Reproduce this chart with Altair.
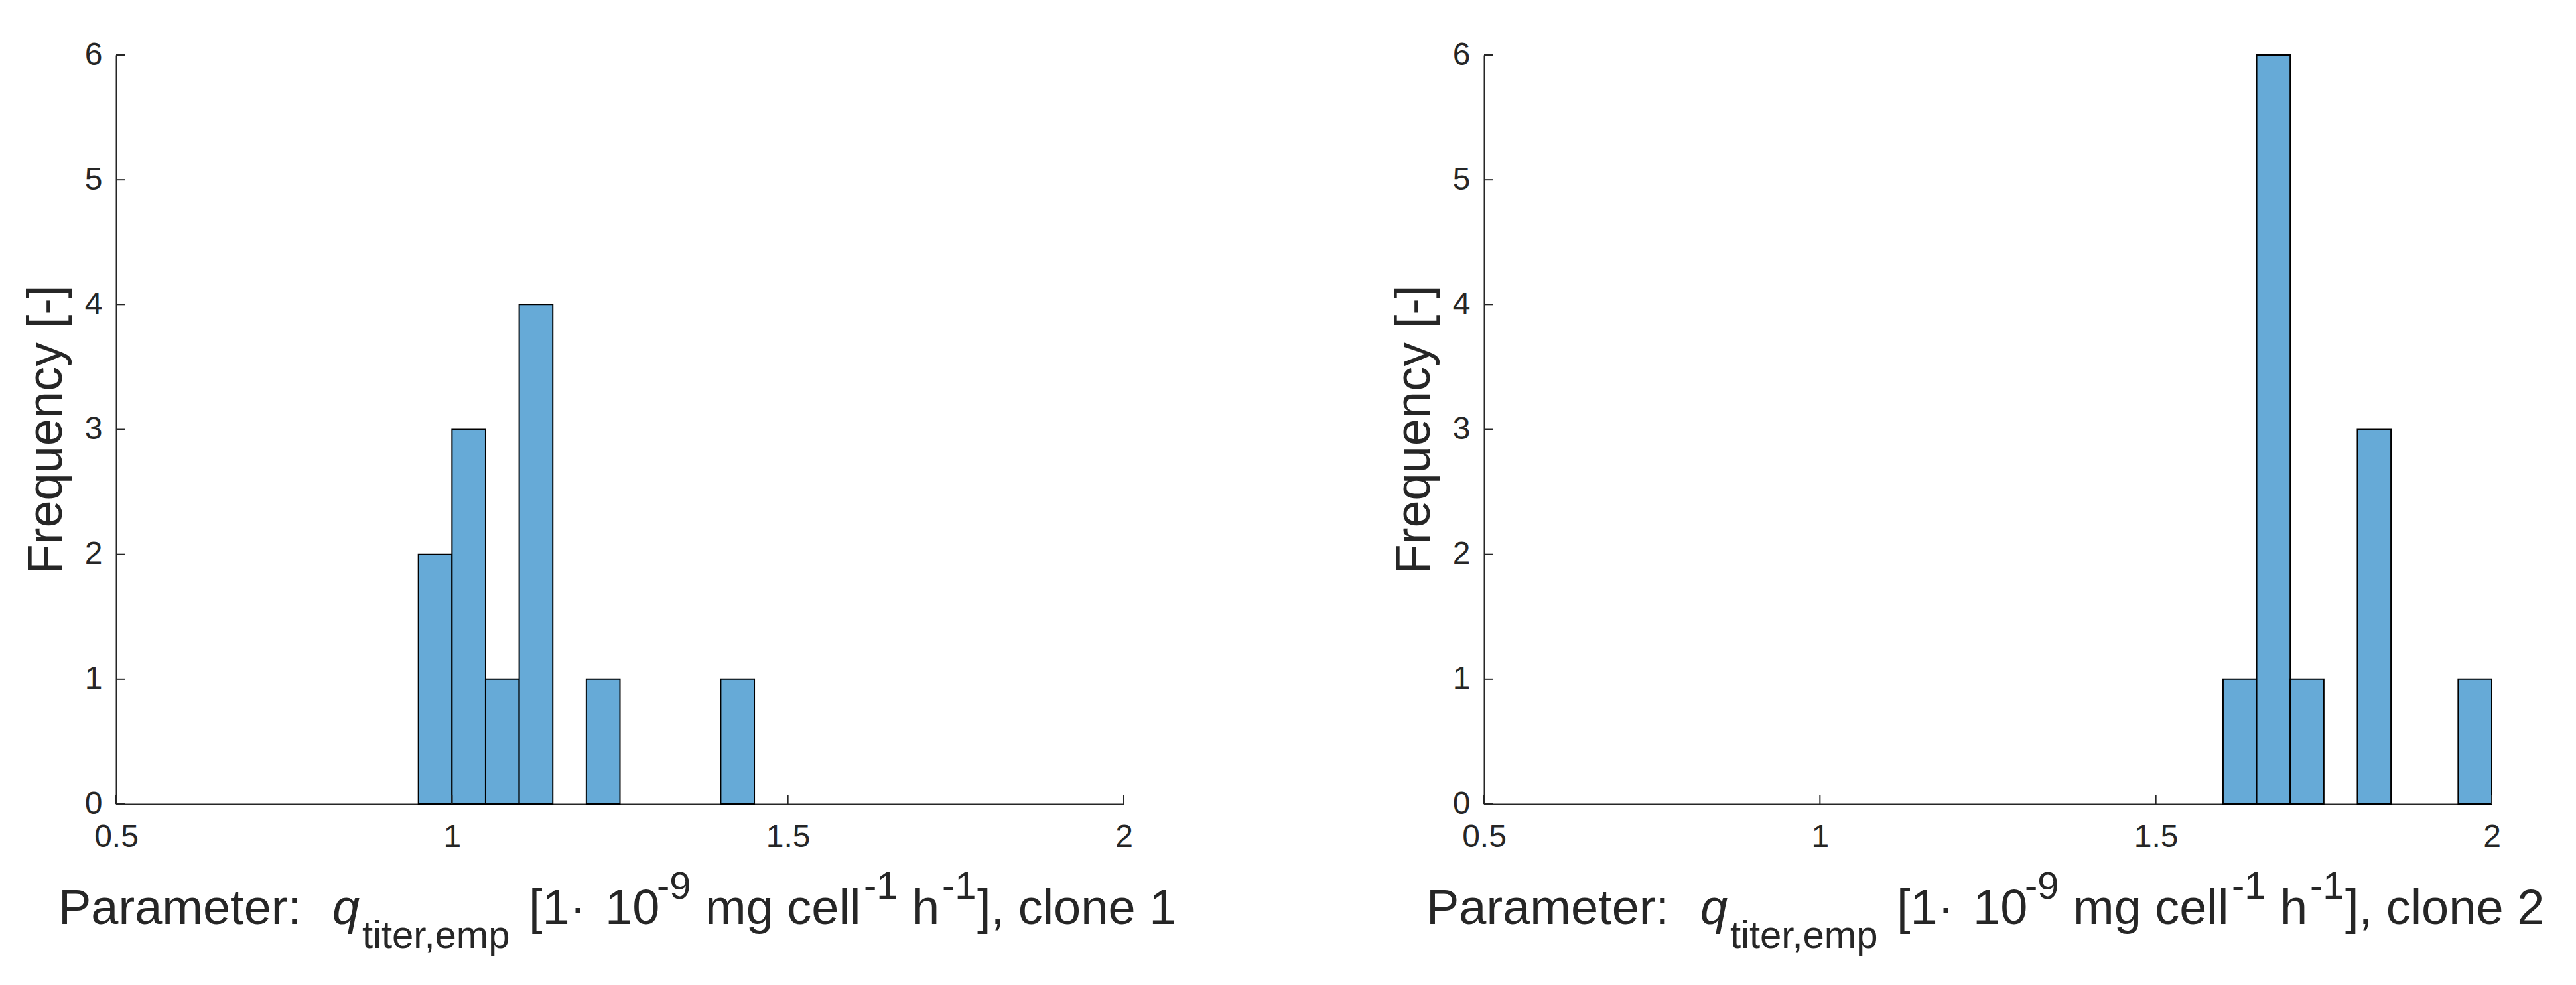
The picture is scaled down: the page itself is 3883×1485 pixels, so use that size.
import altair as alt
import pandas as pd

# ---------------- data ----------------
bin_width = 0.05
c1_lo = [0.95, 1.00, 1.05, 1.10, 1.20, 1.40]
c1_n = [2, 3, 1, 4, 1, 1]
c2_lo = [1.60, 1.65, 1.70, 1.80, 1.95]
c2_n = [1, 6, 1, 3, 1]
x_ticks = [0.5, 1.0, 1.5, 2.0]
y_ticks = [0, 1, 2, 3, 4, 5, 6]
clones = ["1", "2"]
y_title = "Frequency [-]"
t_param = "Parameter:"
t_q = "q"
t_sub = "titer,emp"
t_br = "[1·"
t_ten = "10"
t_exp9 = "-9"
t_unit = "mg cell"
t_exp1 = "-1"
t_h = "h"
t_end = "], clone "

# ---------------- style ----------------
W, H = 1519, 1129
FONT = "Liberation Sans"
INK = "#262626"
FILL = "#66AAD7"
MAIN, SCRIPT, TICKF = 74, 58, 48
TICKLEN = 13


def txt(s, x, y, size, style="normal", angle=0, align="left"):
    return alt.Chart(pd.DataFrame({"t": [s]})).mark_text(
        font=FONT, fontSize=size, fontStyle=style, color=INK,
        align=align, baseline="alphabetic", angle=angle
    ).encode(x=alt.value(x), y=alt.value(y), text="t:N")


def panel(lo, n, clone):
    df = pd.DataFrame({"lo": lo, "hi": [v + bin_width for v in lo], "n": n})
    xs = alt.Scale(domain=[0.5, 2.0], nice=False, zero=False)
    ys = alt.Scale(domain=[0, 6], nice=False)
    xaxis = alt.Axis(values=x_ticks, format="~g", title=None, grid=False,
                     ticks=False, tickSize=0, domainColor=INK, domainWidth=2,
                     labelFont=FONT, labelFontSize=TICKF, labelColor=INK,
                     labelPadding=26, labelFlush=False, labelOverlap=False)
    yaxis = alt.Axis(values=y_ticks, format="d", title=None, grid=False,
                     ticks=False, tickSize=0, domainColor=INK, domainWidth=2,
                     labelFont=FONT, labelFontSize=TICKF, labelColor=INK,
                     labelPadding=21, labelFlush=False, labelOverlap=False)
    bars = alt.Chart(df).mark_rect(fill=FILL, stroke="black", strokeWidth=2).encode(
        x=alt.X("lo:Q", scale=xs, axis=xaxis),
        x2="hi:Q",
        y=alt.Y("n:Q", scale=ys, axis=yaxis),
        y2=alt.datum(0),
    )
    xt = alt.Chart(pd.DataFrame({"v": x_ticks})).mark_rule(color=INK, strokeWidth=2).encode(
        x=alt.X("v:Q", scale=xs, axis=xaxis),
        y=alt.value(H), y2=alt.value(H - TICKLEN),
    )
    yt = alt.Chart(pd.DataFrame({"v": y_ticks})).mark_rule(color=INK, strokeWidth=2).encode(
        y=alt.Y("v:Q", scale=ys, axis=yaxis),
        x=alt.value(0), x2=alt.value(TICKLEN),
    )
    yb = H + 181
    sb = H + 217
    pb = H + 143
    texts = [
        txt(y_title, -82, H / 2, MAIN, angle=270, align="center"),
        txt(t_param, -87, yb, MAIN),
        txt(t_q, 326, yb, MAIN, style="italic"),
        txt(t_sub, 371, sb, SCRIPT),
        txt(t_br, 622, yb, MAIN),
        txt(t_ten, 737, yb, MAIN),
        txt(t_exp9, 815, pb, SCRIPT),
        txt(t_unit, 888, yb, MAIN),
        txt(t_exp1, 1127, pb, SCRIPT),
        txt(t_h, 1200, yb, MAIN),
        txt(t_exp1, 1245, pb, SCRIPT),
        txt(t_end + clone, 1298, yb, MAIN),
    ]
    return alt.layer(bars, xt, yt, *texts).properties(width=W, height=H)


chart = alt.hconcat(
    panel(c1_lo, c1_n, clones[0]),
    panel(c2_lo, c2_n, clones[1]),
    spacing=322,
).properties(
    padding={"left": 26, "top": 51, "right": 5, "bottom": 5},
    background="white",
).configure_view(stroke=None)

chart.save("out.html", embed_options={"renderer": "svg", "actions": False})
